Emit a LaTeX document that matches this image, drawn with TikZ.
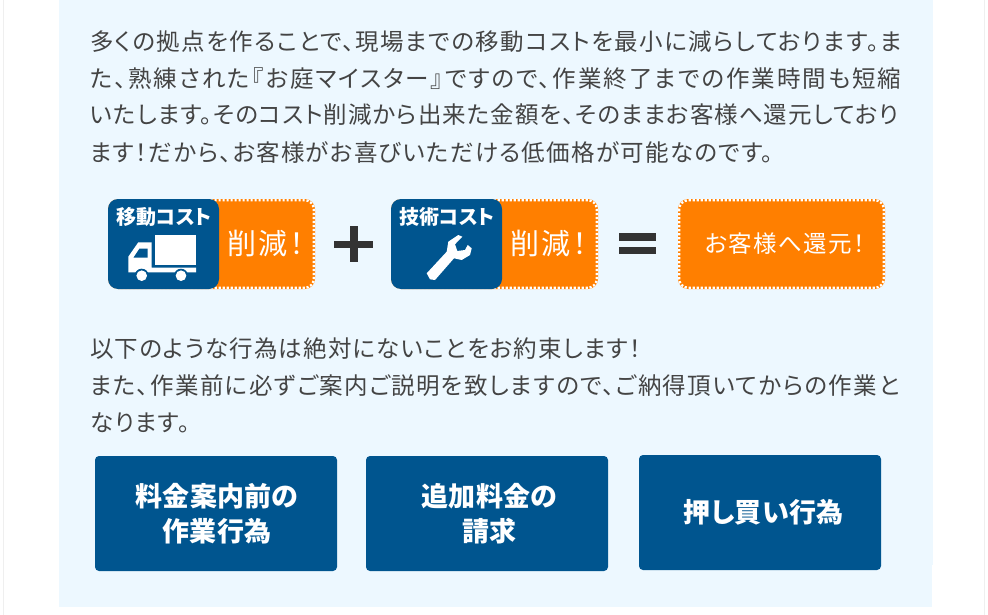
\documentclass[tikz,border=0pt]{standalone}
\usepackage{fontspec}
\setmainfont{Noto Sans CJK JP}[RawFeature=+palt]
\newcommand{\fsz}[1]{\fontsize{#1}{#1}\selectfont}
\newcommand{\lsp}[1]{\addfontfeature{LetterSpace=#1}}
\definecolor{panelbg}{HTML}{EDF8FF}
\definecolor{navy}{HTML}{00558F}
\definecolor{orng}{HTML}{FF7F00}
\definecolor{txt}{HTML}{444444}
\definecolor{dark}{HTML}{333333}
\definecolor{edge}{HTML}{EFEFEF}
\tikzset{
  x=1pt,y=-1pt,
  para/.style={anchor=base west,inner sep=0,text=txt,font=\fsz{23.5}},
  orangebox/.style={fill=orng,rounded corners=10pt},
  dots/.style={draw=white,line width=2.4pt,dash pattern=on 2.2pt off 1.8pt,rounded corners=9pt},
  bluebox/.style={fill=navy,rounded corners=10pt},
  btn/.style={fill=navy,rounded corners=4pt,text=white,font=\fsz{27}\bfseries\lsp{1},align=center,anchor=center,inner sep=0,minimum width=242pt,minimum height=115pt},
  captext/.style={inner sep=0,text=white,font=\fsz{20}\bfseries},
  savetext/.style={inner sep=0,text=white,font=\fsz{29}\lsp{8.4}},
}
\begin{document}
\begin{tikzpicture}
\useasboundingbox (0,0) rectangle (988,615);
\fill[white] (0,0) rectangle (988,615);
\fill[edge] (3,0) rectangle (4,615);
\fill[edge] (984,0) rectangle (985,615);
\fill[panelbg] (59,0) rectangle (933,565);
\fill[panelbg] (59,565) rectangle (932,607);

\node[para] (p1) at (90,51) {\lsp{6.1}多くの拠点を作ることで、現場までの移動コストを最小に減らしております。ま};
\node[para] (p2) at (90,88) {\lsp{8.3}た、熟練された『お庭マイスター』ですので、作業終了までの作業時間も短縮};
\node[para] (p3) at (90,124) {\lsp{4.4}いたします。そのコスト削減から出来た金額を、そのままお客様へ還元しており};
\node[para] (p4) at (90,161) {\lsp{5.5}ます！だから、お客様がお喜びいただける低価格が可能なのです。};

% badge 1
\fill[orangebox] (108,199) rectangle (315,289);
\draw[dots] (109.2,200.2) rectangle (313.8,287.8);
\fill[bluebox] (108,199) rectangle (219,289);
\node[captext] (c1) at (164,217) {移動コスト};
\node[savetext] (s1) at (266,243) {削減！};
\fill[white] (155,235) rectangle (196,265);
\fill[white] (128.3,267) -- (128.3,256.7) -- (138.3,242.3) -- (151.7,242.3) -- (151.7,267.7) -- (196,267.7) -- (196,272.3) -- (128.3,272.3) -- cycle;
\fill[navy] (133.5,257.5) -- (139.5,248.5) -- (147.5,248.5) -- (147.5,257.5) -- cycle;
\fill[navy] (141.7,275.7) circle (7);
\fill[navy] (181,275.7) circle (7);
\fill[white] (141.7,275.7) circle (5.3);
\fill[white] (181,275.7) circle (5.3);

% plus
\fill[dark] (349.5,226) rectangle (358,262);
\fill[dark] (334,240.7) rectangle (373,247.7);

% badge 2
\fill[orangebox] (391,199) rectangle (598,289);
\draw[dots] (392.2,200.2) rectangle (596.8,287.8);
\fill[bluebox] (391,199) rectangle (502,289);
\node[captext] (c2) at (447,217) {技術コスト};
\node[savetext] (s2) at (549,243) {削減！};
\fill[white] (426.7,273.3) -- (446.7,251.7) -- (448.3,241.7) -- (458.3,235) -- (462.3,236.7) -- (455,244.3) -- (457.3,251) -- (465,250) -- (467.7,245) -- (471.7,248.3) -- (470,255) -- (461.7,260) -- (454,258.3) -- (435,280) -- (430,279.3) -- cycle;

% equals
\fill[dark] (618.7,233.3) rectangle (656,240.7);
\fill[dark] (618.7,247) rectangle (656,254.3);

% result
\fill[orangebox] (678,199) rectangle (885,289);
\draw[dots] (679.2,200.2) rectangle (883.8,287.8);
\node[inner sep=0,text=white,font=\fsz{23.5}\lsp{6.1}] (r) at (785,244) {お客様へ還元！};

\node[para] (q1) at (90,357) {\lsp{4.8}以下のような行為は絶対にないことをお約束します！};
\node[para] (q2) at (90,394) {\lsp{6.1}また、作業前に必ずご案内ご説明を致しますので、ご納得頂いてからの作業と};
\node[para] (q3) at (90,431) {\lsp{5}なります。};

\node[btn] (b1) at (216,513.5) {\hspace*{2pt}料金案内前の\\[8pt]\hspace*{2pt}作業行為};
\node[btn] (b2) at (487,513.5) {\hspace*{5pt}追加料金の\\[8pt]\hspace*{5pt}請求};
\node[btn] (b3) at (760,512.5) {\hspace*{7pt}押し買い行為};
\end{tikzpicture}
\end{document}
